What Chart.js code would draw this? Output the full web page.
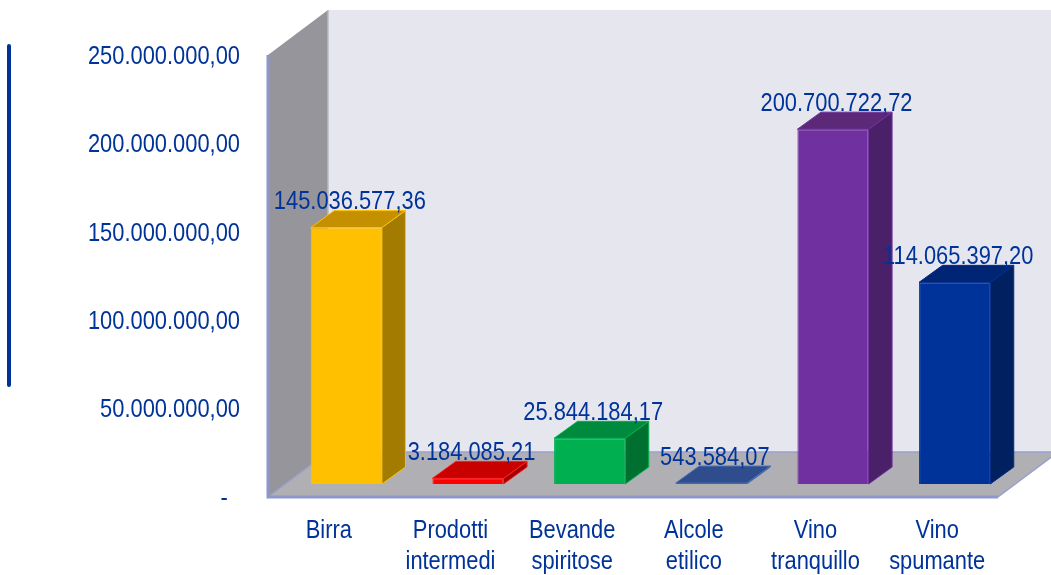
<!DOCTYPE html>
<html><head><meta charset="utf-8">
<style>html,body{margin:0;padding:0;background:#fff}canvas{display:block}</style>
<script src="https://cdn.jsdelivr.net/npm/chart.js@4"></script>
</head><body><canvas id="c" width="1051" height="575"></canvas>
<script>
const categories = [["Birra"],["Prodotti","intermedi"],["Bevande","spiritose"],["Alcole","etilico"],["Vino","tranquillo"],["Vino","spumante"]];
const values = [145036577.36, 3184085.21, 25844184.17, 543584.07, 200700722.72, 114065397.20];
const frontColors = ["#ffc000","#ff0000","#00b050","#2f4d8c","#7030a0","#003399"];
const sideColors = ["#a37b00","#a00000","#007030","#2f4d8c","#4a2068","#002060"];
const topColors = ["#c49000","#c80000","#008a3e","#2f4d8c","#5c2878","#002575"];
const edgeColors = ["#ffc000","#ff2020","#00b050","#4c6fb5","#7030a0","#002c8c"];
const yTicks = {min:0,max:250000000,stepSize:50000000};
const TEXT = "#003399", FONT = "'Liberation Sans',Arial,sans-serif";
const WALL_DX = 60, WALL_DY = 45, BAR_OX = 17.5, BAR_OY = 13, BAR_DX = 23.5, BAR_DY = 17;
const TEXT_SQUEEZE = 0.875, TEXT_DROP = 2;

function fmt(v){
  const [i,d] = v.toFixed(2).split(".");
  return i.replace(/\B(?=(\d{3})+(?!\d))/g,".")+","+d;
}
function poly(ctx,pts,fill,stroke,lw){
  ctx.beginPath();pts.forEach((p,i)=>i?ctx.lineTo(p[0],p[1]):ctx.moveTo(p[0],p[1]));ctx.closePath();
  if(fill){ctx.fillStyle=fill;ctx.fill();}
  if(stroke){ctx.strokeStyle=stroke;ctx.lineWidth=lw||1;ctx.stroke();}
}
const canvas = document.getElementById("c");
const rawCtx = canvas.getContext("2d");
const origFillText = rawCtx.fillText.bind(rawCtx);
rawCtx.fillText = function(text,x,y){
  rawCtx.save();
  rawCtx.translate(x,y+TEXT_DROP);
  rawCtx.scale(TEXT_SQUEEZE,1);
  origFillText(text,0,0);
  rawCtx.restore();
};
const scene = {
  id:"scene",
  beforeDatasetsDraw(chart){
    const ctx=chart.ctx,a=chart.chartArea,L=a.left,R=a.right,T=a.top,B=a.bottom;
    ctx.save();
    ctx.strokeStyle=TEXT;ctx.lineWidth=4;ctx.lineCap="round";
    ctx.beginPath();ctx.moveTo(9,46);ctx.lineTo(9,385);ctx.stroke();
    ctx.lineCap="butt";
    poly(ctx,[[L+WALL_DX,T-WALL_DY],[chart.width,T-WALL_DY],[chart.width,B-WALL_DY],[L+WALL_DX,B-WALL_DY]],"#e6e7ee");
    poly(ctx,[[L,B],[R,B],[R+WALL_DX,B-WALL_DY],[L+WALL_DX,B-WALL_DY]],"#b0b0b4");
    poly(ctx,[[L,T],[L+WALL_DX,T-WALL_DY],[L+WALL_DX,B-WALL_DY],[L,B]],"#96959b");
    ctx.strokeStyle="#b9bac2";ctx.lineWidth=1.5;
    ctx.beginPath();ctx.moveTo(L+WALL_DX,T-WALL_DY);ctx.lineTo(L+WALL_DX,B-WALL_DY);ctx.stroke();
    ctx.strokeStyle="#9aa0cc";ctx.lineWidth=1.5;
    ctx.beginPath();ctx.moveTo(L,B);ctx.lineTo(L+WALL_DX,B-WALL_DY);ctx.lineTo(chart.width,B-WALL_DY);
    ctx.moveTo(R,B);ctx.lineTo(R+WALL_DX,B-WALL_DY);ctx.stroke();
    ctx.lineWidth=3;ctx.strokeStyle="#8d97cc";
    ctx.beginPath();ctx.moveTo(L,T);ctx.lineTo(L,B);ctx.lineTo(R,B);ctx.stroke();
    chart.getDatasetMeta(0).data.forEach((bar,i)=>{
      const l=bar.x-bar.width/2+BAR_OX,r=bar.x+bar.width/2+BAR_OX,t=bar.y-BAR_OY,b=bar.base-BAR_OY;
      poly(ctx,[[r,t],[r+BAR_DX,t-BAR_DY],[r+BAR_DX,b-BAR_DY],[r,b]],sideColors[i],edgeColors[i],1);
      poly(ctx,[[l,t],[l+BAR_DX,t-BAR_DY],[r+BAR_DX,t-BAR_DY],[r,t]],topColors[i],edgeColors[i],1);
    });
    ctx.restore();
  },
  beforeDatasetDraw(chart){ chart.ctx.save(); chart.ctx.translate(BAR_OX,-BAR_OY); },
  afterDatasetDraw(chart){ chart.ctx.restore(); },
  afterDatasetsDraw(chart){
    const ctx=chart.ctx;
    ctx.save();
    ctx.fillStyle=TEXT;ctx.font="25px "+FONT;ctx.textAlign="center";ctx.textBaseline="middle";
    chart.getDatasetMeta(0).data.forEach((bar,i)=>{
      ctx.fillText(fmt(values[i]),bar.x+BAR_OX+3.5,bar.y-BAR_OY-BAR_DY-10);
    });
    ctx.restore();
  }
};
new Chart(canvas,{
  type:"bar",
  data:{labels:categories,datasets:[{data:values,backgroundColor:frontColors,borderColor:edgeColors,borderWidth:1,barPercentage:0.585,categoryPercentage:1}]},
  plugins:[scene],
  options:{
    responsive:false,animation:false,
    layout:{padding:{left:0,right:53,top:55,bottom:0}},
    plugins:{legend:{display:false},tooltip:{enabled:false},title:{display:false}},
    scales:{
      x:{
        grid:{display:false},border:{display:false},
        afterFit(s){s.height=78;},
        ticks:{color:TEXT,maxRotation:0,autoSkip:false,padding:8,font:{family:FONT,size:25,lineHeight:1.26}}
      },
      y:{
        min:yTicks.min,max:yTicks.max,
        grid:{display:false},border:{display:false},
        afterFit(s){s.width=268;},
        ticks:{stepSize:yTicks.stepSize,color:TEXT,padding:20,
          font:{family:FONT,size:25},
          callback:v=>v===0?"-  ":fmt(v)}
      }
    }
  }
});
</script></body></html>
